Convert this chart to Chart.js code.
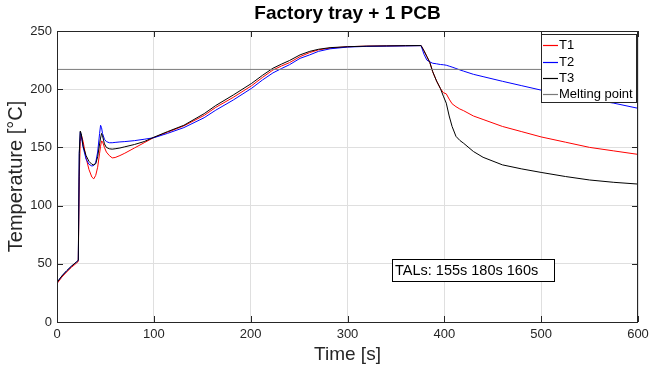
<!DOCTYPE html>
<html>
<head>
<meta charset="utf-8">
<script src="https://cdn.jsdelivr.net/npm/chart.js@4/dist/chart.umd.min.js"></script>
<style>
html,body{margin:0;padding:0;background:#fff;}
#wrap{width:650px;height:370px;}
</style>
</head>
<body>
<div id="wrap"><canvas id="c" width="650" height="370"></canvas></div>
<script>
const chartTitle = "Factory tray + 1 PCB";
const xTitle = "Time [s]";
const yTitle = "Temperature [°C]";
const seriesNames = ["T1", "T2", "T3", "Melting point"];
const annotationText = "TALs: 155s 180s 160s";
const meltingPoint = 217;
const xTicks = [0, 100, 200, 300, 400, 500, 600];
const yTicks = [0, 50, 100, 150, 200, 250];

const time = [0,5,10,15,20,22,23,24,25,27,30,33,36,38,40,42,44,45,46,47,49,51,54,57,60,65,70,80,90,100,114,131,152,164,182,201,212,223,232,240,251,261,270,282,300,320,340,360,376,379,382,385,388,392,396,399,402,405,408,412,416,420,430,440,460,480,500,525,550,575,600];

const t1 = [33,38.5,43,47,50.5,52,125,155,161,155,141,131,124.5,123,126,133,145,151,155.5,155,150,146,143,141,141.3,143,145,149.5,154,158.5,163,168.5,177.5,184.4,193,203,210,216.5,220,222.8,228,231.5,233.8,235.3,236.5,237,237.2,237.4,237.5,233,228,223,215,207,200.5,197,196,191.5,187.5,185,183,181.5,177,174,168,163.5,159,154.5,150,147,144];

const t2 = [34,39.5,44,48,51.5,53,145,163,160,150,140,135.5,134,134.5,137,146,162,169,167,162,157,155,154,154,154.3,154.7,155,155.8,157,158.3,162,167,175.5,182,190.7,200.8,207.8,214,217.8,221,226.5,229.5,232.5,234.7,236.2,236.8,237,237.2,237.4,230,225,223.5,222.3,221.8,221.2,221,220.6,219.8,219,217.8,216.6,215.5,212.8,210.8,206.8,203,199.2,195.5,191.5,188,183.6];

const t3 = [34,39.5,44,48,51.5,53,145,164,162,151,143,138,135.5,135,136,142,153,158,162,160,153,150,148.8,148.5,148.8,149.5,150.5,152.5,155,158.7,163.5,169,179,186,195,205,211.8,218,221.6,224.6,229.5,232.5,234.3,235.7,236.5,237,237.2,237.4,237.5,233,228,223,215,207,200.5,194,188,177,168,159.5,156,153.5,146.5,141.5,135,131.5,128.5,125,122,120,118.5];

const colors = ["#ff0000", "#0000ff", "#000000", "#7a7a7a"];

function pts(ys){ return time.map((t,i)=>({x:t, y:ys[i]})); }

const FONT = '"Liberation Sans", Arial, Helvetica, sans-serif';
const INK = '#262626';

const decor = {
  id: 'decor',
  afterDraw(chart) {
    const ctx = chart.ctx;
    const a = chart.chartArea;
    const xs = chart.scales.x, ys = chart.scales.y;
    ctx.save();
    // frame
    ctx.strokeStyle = INK;
    ctx.lineWidth = 1;
    ctx.strokeRect(Math.round(a.left)+0.5, Math.round(a.top)+0.5, Math.round(a.right-a.left)-1, Math.round(a.bottom-a.top));
    // ticks inward
    ctx.beginPath();
    xTicks.forEach(v=>{
      const px = Math.round(xs.getPixelForValue(v))+0.5;
      ctx.moveTo(px, a.bottom); ctx.lineTo(px, a.bottom-6);
      ctx.moveTo(px, a.top); ctx.lineTo(px, a.top+6);
    });
    yTicks.forEach(v=>{
      const py = Math.round(ys.getPixelForValue(v))+0.5;
      ctx.moveTo(a.left, py); ctx.lineTo(a.left+6, py);
      ctx.moveTo(a.right, py); ctx.lineTo(a.right-6, py);
    });
    ctx.stroke();
    // title
    const cx = (a.left + a.right)/2;
    ctx.fillStyle = '#000';
    ctx.textAlign = 'center';
    ctx.textBaseline = 'middle';
    ctx.font = 'bold 19px ' + FONT;
    ctx.fillText(chartTitle, cx, 14);
    // x title
    ctx.fillStyle = INK;
    ctx.font = '19px ' + FONT;
    ctx.fillText(xTitle, cx, 355);
    // y title
    ctx.save();
    ctx.translate(16, (a.top + a.bottom)/2);
    ctx.rotate(-Math.PI/2);
    ctx.font = '20px ' + FONT;
    ctx.fillText(yTitle, 0, 0);
    ctx.restore();
    // legend
    const lx = 541, ly = 34, lw = 95, lh = 68;
    ctx.fillStyle = '#fff';
    ctx.fillRect(lx, ly, lw, lh);
    ctx.strokeStyle = INK;
    ctx.lineWidth = 1;
    ctx.strokeRect(lx+0.5, ly+0.5, lw, lh);
    const rows = [45, 61.5, 78, 94];
    ctx.font = '13px ' + FONT;
    ctx.textAlign = 'left';
    ctx.textBaseline = 'middle';
    seriesNames.forEach((n,i)=>{
      ctx.strokeStyle = colors[i];
      ctx.lineWidth = 1.2;
      ctx.beginPath();
      ctx.moveTo(543, Math.round(rows[i])+0.5);
      ctx.lineTo(558, Math.round(rows[i])+0.5);
      ctx.stroke();
      ctx.fillStyle = '#000';
      ctx.fillText(n, 559, rows[i]+0.5);
    });
    // annotation box
    const bx = 392, by = 259, bw = 162, bh = 22;
    ctx.fillStyle = '#fff';
    ctx.fillRect(bx, by, bw, bh);
    ctx.strokeStyle = '#000';
    ctx.lineWidth = 1;
    ctx.strokeRect(bx+0.5, by+0.5, bw, bh);
    ctx.fillStyle = '#000';
    ctx.font = '14.5px ' + FONT;
    ctx.fillText(annotationText, 395, by + bh/2 + 1);
    ctx.restore();
  }
};

new Chart(document.getElementById('c'), {
  type: 'line',
  data: {
    datasets: [
      {label: seriesNames[0], data: pts(t1), borderColor: colors[0], borderWidth: 1, pointRadius: 0, tension: 0, order: 4},
      {label: seriesNames[1], data: pts(t2), borderColor: colors[1], borderWidth: 1, pointRadius: 0, tension: 0, order: 3},
      {label: seriesNames[2], data: pts(t3), borderColor: colors[2], borderWidth: 1, pointRadius: 0, tension: 0, order: 2},
      {label: seriesNames[3], data: [{x: xTicks[0], y: meltingPoint}, {x: xTicks[xTicks.length-1], y: meltingPoint}], borderColor: colors[3], borderWidth: 1, pointRadius: 0, tension: 0, order: 1}
    ]
  },
  options: {
    responsive: false,
    animation: false,
    devicePixelRatio: 1,
    layout: {padding: {top: 31, right: 12, left: 0, bottom: 0}},
    plugins: {legend: {display: false}, title: {display: false}, tooltip: {enabled: false}},
    scales: {
      x: {
        type: 'linear', min: 0, max: 600,
        afterFit(s){ s.height = 48; s.paddingLeft = 0; s.paddingRight = 0; },
        afterBuildTicks(s){ s.ticks = xTicks.map(v=>({value: v})); },
        ticks: {color: INK, font: {size: 13, family: FONT}, padding: 5, maxRotation: 0, autoSkip: false},
        grid: {color: '#dfdfdf', drawTicks: false, lineWidth: 1},
        border: {display: false}
      },
      y: {
        type: 'linear', min: 0, max: 250,
        afterFit(s){ s.width = 57; s.paddingTop = 0; s.paddingBottom = 0; },
        afterBuildTicks(s){ s.ticks = yTicks.map(v=>({value: v})); },
        ticks: {color: INK, font: {size: 13, family: FONT}, padding: 5, autoSkip: false},
        grid: {color: '#dfdfdf', drawTicks: false, lineWidth: 1},
        border: {display: false}
      }
    }
  },
  plugins: [decor]
});
</script>
</body>
</html>
